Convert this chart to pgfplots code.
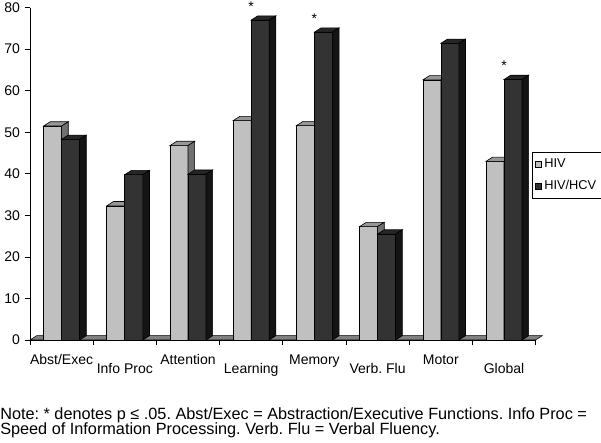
\documentclass[border=0pt]{standalone}
\usepackage{pgfplots}
\pgfplotsset{compat=1.18}
\usepackage{pgfplotstable}
\usepackage{fontspec}
\setmainfont{Liberation Sans}
\frenchspacing

\definecolor{hivfront}{HTML}{C0C0C0}
\definecolor{hivtop}{HTML}{979797}
\definecolor{hivside}{HTML}{707070}
\definecolor{hcvfront}{HTML}{333333}
\definecolor{hcvtop}{HTML}{262626}
\definecolor{hcvside}{HTML}{141414}
\definecolor{floorgray}{HTML}{808080}

% mean scores per domain, sig = 1 where p <= .05
\pgfplotstableread{
cat hiv  hcv  sig
0   51.5 48.3 0
1   32.3 39.8 0
2   46.8 39.9 0
3   52.8 77.0 1
4   51.6 74.1 1
5   27.3 25.5 0
6   62.6 71.4 0
7   43.0 62.7 1
}\scores

\newcommand\yunit{3.116}% pt per y unit
\newcommand\barw{13.5}% front face width, pt
\newcommand\depx{5}% depth, sideways, pt
\newcommand\depy{3.2}% depth, upwards, pt

% a 3-D bar drawn from each data point: #1 left edge of front face (pt),
% #2 column, #3 front, #4 top, #5 side colour
\pgfplotsset{
  bar3d/.style n args={5}{
    scatter, only marks, mark=*, mark size=0pt,
    forget plot,
    visualization depends on={\thisrow{#2} \as \barval},
    scatter/@pre marker code/.code={%
      \pgfmathsetmacro\barh{\barval*\yunit}%
      \pgfmathsetmacro\barr{#1+\barw}%
      \begin{scope}[line width=0.45pt, draw=black]
      \filldraw[fill=#3] (#1pt,-\barh pt) rectangle (\barr pt,0pt);
      \filldraw[fill=#4] (#1pt,0pt) -- ++(\depx pt,\depy pt) -- ++(\barw pt,0pt) -- (\barr pt,0pt) -- cycle;
      \filldraw[fill=#5] (\barr pt,0pt) -- ++(\depx pt,\depy pt) -- ++(0pt,-\barh pt) -- (\barr pt,-\barh pt) -- cycle;
      \end{scope}
    },
    scatter/@post marker code/.code={},
  },
}

\begin{document}
\begin{tikzpicture}
\begin{axis}[
    x=47.4pt, y=\yunit pt,
    xmin=-0.5, xmax=7.5, ymin=0, ymax=80,
    clip=false,
    axis x line=bottom, axis y line=left,
    axis line style={-, line width=0.5pt},
    tick align=outside,
    major tick length=4pt, minor tick length=4pt,
    tick style={line width=0.5pt, black},
    ytick={0,10,...,80},
    xtick={0,2,4,6},
    xticklabels={Abst/Exec,Attention,Memory,Motor},
    major x tick style={draw=none},
    minor xtick={-0.5,0.5,...,7.5},
    extra x ticks={1,3,5,7},
    extra x tick labels={Info Proc,Learning,Verb. Flu,Global},
    extra x tick style={major tick length=0pt, major x tick style={draw=none},
      xticklabel style={yshift=-10.5pt}},
    xticklabel style={anchor=base, yshift=-14.5pt},
    /pgf/number format/assume math mode=true,
    tick label style={font=\fontsize{10.5}{12}\selectfont},
    legend style={at={(rel axis cs:0.993,0.566)}, anchor=north west,
      draw=black, line width=0.5pt, font=\fontsize{9.6}{11}\selectfont,
      inner xsep=2pt, inner ysep=3pt, row sep=4pt,
      /tikz/every odd column/.append style={column sep=0pt}},
    legend cell align=left,
    legend image code/.code={\draw[#1, line width=0.4pt] (0pt,-2.2pt) rectangle (4.5pt,2.2pt);},
]
\coordinate (O) at (axis cs:-0.5,0);
% floor of the 3-D chart
\path[draw=black, line width=0.4pt, fill=floorgray]
  (axis cs:-0.5,0) -- ([shift={(\depx pt,\depy pt)}]axis cs:-0.5,0)
  -- ([shift={(\depx pt,\depy pt)}]axis cs:7.5,0) -- (axis cs:7.5,0) -- cycle;

\addlegendimage{fill=hivfront, draw=black}
\addlegendentry{HIV}
\addlegendimage{fill=hcvfront, draw=black}
\addlegendentry{HIV/HCV}

\addplot[bar3d={-\barw}{hiv}{hivfront}{hivtop}{hivside}] table[x=cat, y=hiv] {\scores};
\addplot[bar3d={0}{hcv}{hcvfront}{hcvtop}{hcvside}] table[x=cat, y=hcv] {\scores};
% significance stars
\addplot[draw=none, forget plot,
  visualization depends on={\thisrow{sig} \as \sg},
  nodes near coords={\ifdim\sg pt>0.5pt *\fi},
  every node near coord/.append style={anchor=base, yshift=6.8pt, inner sep=0pt,
    font=\fontsize{10.5}{12}\selectfont, black}]
  table[x=cat, y=hcv] {\scores};
\end{axis}
\node[anchor=base west, inner sep=0pt, font=\fontsize{12.2}{14}\selectfont]
  at ([shift={(-22.5pt,-60pt)}]O)
  {Note: * denotes p ≤ .05. Abst/Exec = Abstraction/Executive Functions. Info Proc =};
\node[anchor=base west, inner sep=0pt, font=\fontsize{12.2}{14}\selectfont]
  at ([shift={(-22.5pt,-70.7pt)}]O)
  {Speed of Information Processing. Verb. Flu = Verbal Fluency.};
\pgfresetboundingbox
\path[use as bounding box] ([shift={(-22.5pt,-77.25pt)}]O) rectangle ([shift={(428.25pt,255pt)}]O);
\end{tikzpicture}
\end{document}
